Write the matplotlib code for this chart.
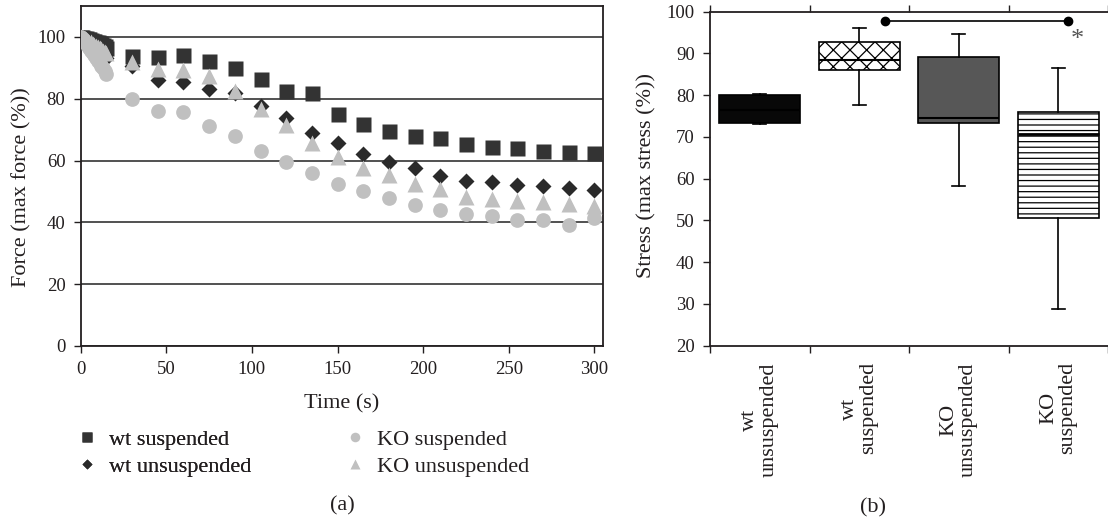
import matplotlib
matplotlib.use("Agg")
import matplotlib.pyplot as plt

plt.rcParams['font.family'] = ['Liberation Serif', 'DejaVu Serif']
plt.rcParams['hatch.linewidth'] = 0.9
TXT = '#231f20'
plt.rcParams['text.color'] = TXT
plt.rcParams['axes.edgecolor'] = TXT
plt.rcParams['xtick.color'] = TXT
plt.rcParams['ytick.color'] = TXT

# ---------------- Panel (a) data ----------------
time_s = [0, 1, 2, 3, 4, 5, 6, 7, 8, 9, 10, 11, 12, 13, 14, 15,
          30, 45, 60, 75, 90, 105, 120, 135, 150, 165, 180, 195, 210,
          225, 240, 255, 270, 285, 300]

wt_suspended = [100, 100, 99.8, 99.6, 99.4, 99.2, 99.0, 98.8, 98.6, 98.4,
                98.2, 98.0, 97.7, 97.4, 97.0, 96.5,
                93.7, 93.5, 94.0, 92.3, 90.1, 86.5, 82.4, 81.8, 75.1, 71.8,
                69.7, 68.1, 67.3, 65.2, 64.3, 63.9, 63.1, 62.7, 62.6]

wt_unsuspended = [100, 99.8, 99.5, 99.2, 98.8, 98.4, 98.0, 97.6, 97.1, 96.7,
                  96.2, 95.7, 95.2, 94.6, 94.0, 93.3,
                  90.5, 86.1, 85.3, 83.1, 81.8, 77.8, 73.7, 68.9, 65.8, 62.2,
                  59.4, 57.5, 55.1, 53.3, 52.9, 52.2, 51.8, 51.1, 50.5]

ko_suspended = [100, 99.5, 98.8, 98.0, 97.2, 96.5, 95.6, 94.8, 94.0, 93.2,
                92.3, 91.5, 90.6, 89.8, 88.9, 88.0,
                80.0, 76.1, 75.6, 71.2, 68.0, 63.1, 59.4, 56.1, 52.3, 50.3,
                47.8, 45.6, 44.0, 42.7, 41.9, 40.8, 40.8, 39.2, 41.3]

ko_unsuspended = [100, 99.7, 99.4, 99.1, 98.8, 98.5, 98.2, 97.8, 97.5, 97.1,
                  96.8, 96.4, 96.0, 95.6, 95.2, 94.8,
                  92.0, 89.7, 89.4, 87.5, 82.4, 76.7, 71.6, 65.8, 61.0, 57.7,
                  55.4, 52.4, 50.7, 48.1, 47.4, 46.9, 46.6, 46.1, 45.3]

series_labels = ['wt suspended', 'wt unsuspended', 'KO suspended', 'KO unsuspended']

# ---------------- Panel (b) data ----------------
groups = ['wt\nunsuspended', 'wt\nsuspended', 'KO\nunsuspended', 'KO\nsuspended']
q1 = [73.4, 86.1, 73.3, 50.5]
q3 = [80.0, 92.8, 89.2, 76.0]
medians = [76.5, 88.5, 74.6, 70.6]
whisker_low = [73.1, 77.6, 58.2, 28.7]
whisker_high = [80.4, 96.2, 94.7, 86.6]
sig_pair = [2.26, 4.10]
sig_level = 97.8

W, H = 1108, 520
fig = plt.figure(figsize=(W / 100, H / 100), dpi=100)

def fx(px):
    return px / W

def fy(py):
    return 1 - py / H

FS = 16
TFS = 13.5

# ---------- Panel (a) ----------
ax1 = fig.add_axes([fx(80.7), fy(346), fx(603 - 80.7), (346 - 6) / H])
dark = '#333333'
light = '#c0c0c0'
h_sq, = ax1.plot(time_s, wt_suspended, 's', color=dark, ms=10.8, mec='none', zorder=3)
h_di, = ax1.plot(time_s, wt_unsuspended, 'D', color='#2a2a2a', ms=8.0, mec='none', zorder=4)
h_tr, = ax1.plot(time_s, ko_unsuspended, '^', color=light, ms=12.0, mec='none', zorder=5)
h_ci, = ax1.plot(time_s, ko_suspended, 'o', color=light, ms=10.6, mec='none', zorder=6)

ax1.set_xlim(0, 305)
ax1.set_ylim(0, 110)
ax1.set_xticks([0, 50, 100, 150, 200, 250, 300])
ax1.set_yticks([0, 20, 40, 60, 80, 100])
ax1.yaxis.grid(True, color='#222222', lw=1.1)
ax1.set_axisbelow(True)
ax1.tick_params(direction='out', length=5, width=1, pad=6, labelsize=TFS)
for s in ax1.spines.values():
    s.set_linewidth(1.3)

fig.text(fx(22), fy(187), 'Force (max force (%))', rotation=90, ha='center',
         va='center', fontsize=FS)
fig.text(fx(342), fy(404), 'Time (s)', ha='center', va='center', fontsize=FS)

leg_kw = dict(loc='upper left', frameon=False, fontsize=FS, markerscale=0.65,
              handlelength=1.0, handletextpad=0.5, borderpad=0,
              borderaxespad=0, labelspacing=0.3)
leg1 = fig.legend([h_sq, h_di], series_labels[:2],
                  bbox_to_anchor=(fx(76), fy(429)), **leg_kw)
leg2 = fig.legend([h_ci, h_tr], series_labels[2:],
                  bbox_to_anchor=(fx(344), fy(429)), **leg_kw)
fig.add_artist(leg1)

fig.text(fx(342), fy(506), '(a)', ha='center', va='center', fontsize=FS)

# ---------- Panel (b) ----------
ax2 = fig.add_axes([fx(710), fy(345.7), fx(1108 - 710), (345.7 - 11.7) / H])
stats = []
for i in range(len(groups)):
    stats.append(dict(med=medians[i], q1=q1[i], q3=q3[i],
                      whislo=whisker_low[i], whishi=whisker_high[i],
                      fliers=[], label=groups[i]))
positions = [1, 2, 3, 4]
bp = ax2.bxp(stats, positions=positions, widths=0.81, capwidths=0.13,
             patch_artist=True, showfliers=False, manage_ticks=False,
             boxprops=dict(linewidth=1.2, edgecolor='black'),
             whiskerprops=dict(linewidth=1.2, color='black'),
             capprops=dict(linewidth=1.2, color='black'),
             medianprops=dict(linewidth=1.5, color='black'))
faces = ['#080808', 'white', '#575757', 'white']
hatches = [None, 'xx', None, '---']
for patch, fc, ht in zip(bp['boxes'], faces, hatches):
    patch.set_facecolor(fc)
    patch.set_edgecolor('black')
    if ht:
        patch.set_hatch(ht)
bp['medians'][3].set_linewidth(2.0)

ax2.plot(sig_pair, [sig_level, sig_level], '-o', color='black', lw=1.2, ms=6,
         zorder=5)
ax2.text(4.19, 93.2, '*', color='#555555', fontsize=19, ha='center', va='center')

ax2.set_xlim(0.5, 4.5)
ax2.set_ylim(20, 100)
ax2.set_yticks(range(20, 101, 10))
ax2.set_xticks([0.5, 1.5, 2.5, 3.5, 4.5])
ax2.set_xticklabels([])
ax2.set_xticks(positions, minor=True)
ax2.set_xticklabels(groups, minor=True, rotation=90, fontsize=FS,
                    linespacing=1.05, multialignment='center')
ax2.tick_params(axis='x', which='major', direction='out', length=5, width=1,
                top=True, bottom=True)
ax2.tick_params(axis='x', which='minor', length=0, pad=12)
ax2.tick_params(axis='y', direction='out', length=5, width=1, pad=6, labelsize=TFS)
ax2.spines['right'].set_visible(False)
for s in ['left', 'top', 'bottom']:
    ax2.spines[s].set_linewidth(1.3)

fig.text(fx(647), fy(176), 'Stress (max stress (%))', rotation=90, ha='center',
         va='center', fontsize=FS)
fig.text(fx(873), fy(508), '(b)', ha='center', va='center', fontsize=FS)

fig.savefig('out.png', dpi=100)
